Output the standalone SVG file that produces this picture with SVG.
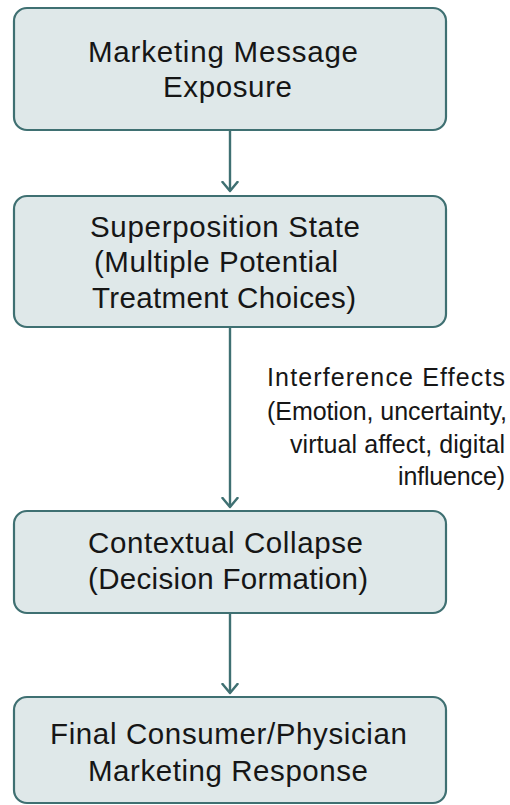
<svg xmlns="http://www.w3.org/2000/svg" width="510" height="805" viewBox="0 0 510 805">
  <defs>
    <style>
      .box { fill: #dfe8e9; stroke: #3f7072; stroke-width: 2.2; }
      .node-text { font-family: "Liberation Sans", Arial, Helvetica, sans-serif; font-size: 29.5px; fill: #161616; }
      .label-text { font-family: "Liberation Sans", Arial, Helvetica, sans-serif; font-size: 25px; fill: #161616; }
      .edge { stroke: #3f7072; stroke-width: 2.4; fill: none; }
    </style>
    <marker id="chevron" viewBox="-10 -10 20 20" refX="0" refY="0" markerWidth="20" markerHeight="20" markerUnits="userSpaceOnUse" orient="auto">
      <path d="M-9,-7.5 L0,0 L-9,7.5" fill="none" stroke="#3f7072" stroke-width="2.5" stroke-linecap="round" stroke-linejoin="round"/>
    </marker>
  </defs>

  <rect width="510" height="805" fill="#ffffff"/>

  <!-- connectors -->
  <g id="connectors">
    <line class="edge" x1="230" y1="130" x2="230" y2="191" marker-end="url(#chevron)"/>
    <line class="edge" x1="230" y1="327" x2="230" y2="507" marker-end="url(#chevron)"/>
    <line class="edge" x1="230" y1="613" x2="230" y2="693" marker-end="url(#chevron)"/>
    <g id="edge-label">
      <text class="label-text" x="267" y="386" textLength="238" lengthAdjust="spacing">Interference Effects</text>
      <text class="label-text" x="267" y="420" textLength="240" lengthAdjust="spacing">(Emotion, uncertainty,</text>
      <text class="label-text" x="290" y="453" textLength="215" lengthAdjust="spacing">virtual affect, digital</text>
      <text class="label-text" x="398" y="485" textLength="107" lengthAdjust="spacing">influence)</text>
    </g>
  </g>

  <!-- nodes -->
  <g id="node-exposure">
    <rect class="box" x="14" y="8" width="432" height="122" rx="13" ry="13"/>
    <text class="node-text" x="88" y="62" textLength="270" lengthAdjust="spacing">Marketing Message</text>
    <text class="node-text" x="163" y="97" textLength="129" lengthAdjust="spacing">Exposure</text>
  </g>

  <g id="node-superposition">
    <rect class="box" x="14" y="196" width="432" height="131" rx="13" ry="13"/>
    <text class="node-text" x="90" y="236.5" textLength="270" lengthAdjust="spacing">Superposition State</text>
    <text class="node-text" x="94" y="271.5" textLength="244" lengthAdjust="spacing">(Multiple Potential</text>
    <text class="node-text" x="92" y="308" textLength="264" lengthAdjust="spacing">Treatment Choices)</text>
  </g>

  <g id="node-collapse">
    <rect class="box" x="14" y="511" width="432" height="102" rx="13" ry="13"/>
    <text class="node-text" x="88" y="553" textLength="275" lengthAdjust="spacing">Contextual Collapse</text>
    <text class="node-text" x="88" y="589" textLength="280" lengthAdjust="spacing">(Decision Formation)</text>
  </g>

  <g id="node-response">
    <rect class="box" x="14" y="697" width="432" height="106" rx="13" ry="13"/>
    <text class="node-text" x="50" y="744" textLength="357" lengthAdjust="spacing">Final Consumer/Physician</text>
    <text class="node-text" x="88" y="780.5" textLength="280" lengthAdjust="spacing">Marketing Response</text>
  </g>
</svg>
